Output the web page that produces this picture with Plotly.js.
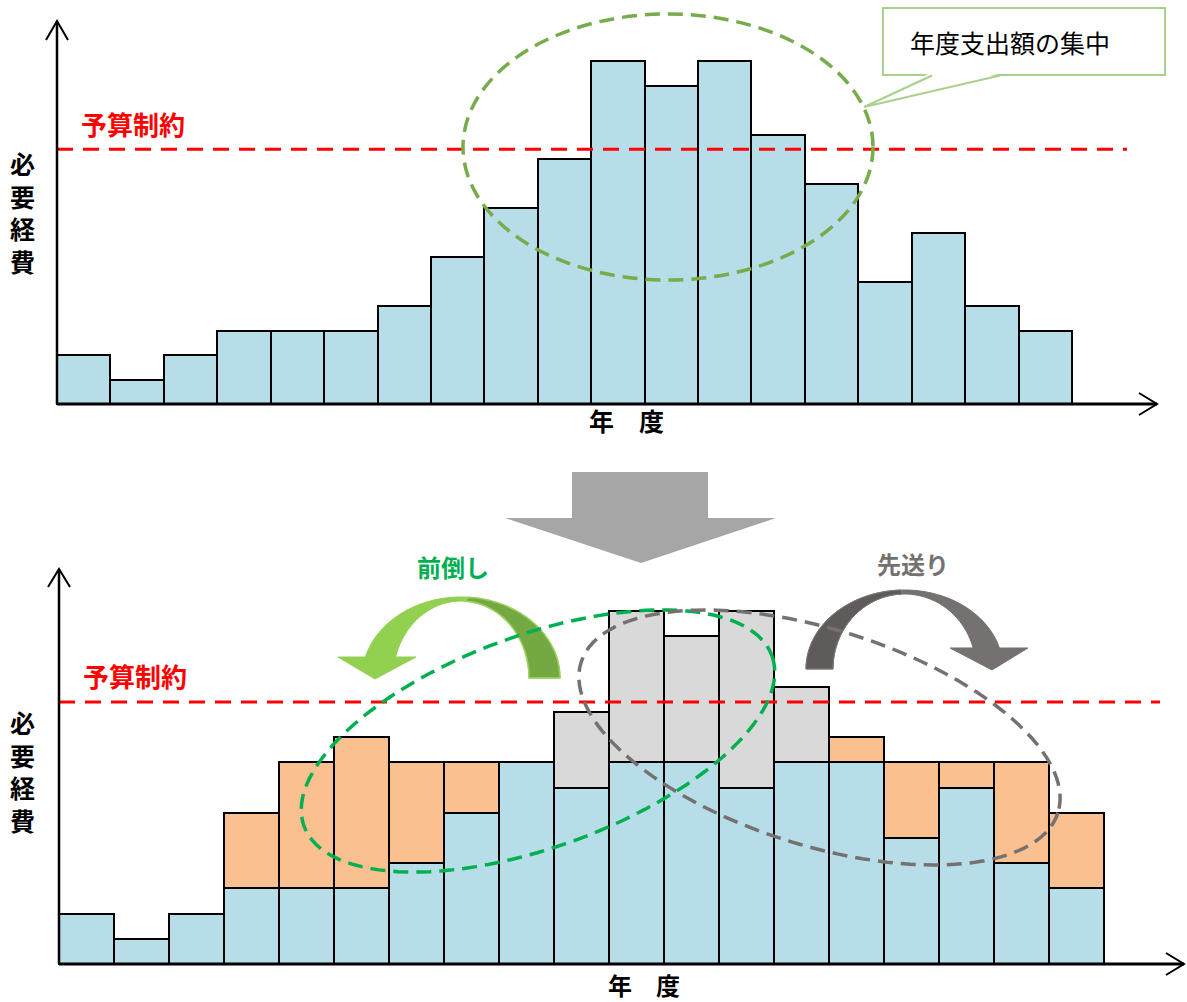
<!DOCTYPE html>
<html>
<head>
<meta charset="utf-8">
<script src="https://cdn.plot.ly/plotly-3.0.1.min.js"></script>
<style>
html,body{margin:0;padding:0;background:#ffffff;}
#chart{width:1187px;height:1002px;}
</style>
</head>
<body>
<div id="chart"></div>
<script>
// ---------- data ----------
const years = [1,2,3,4,5,6,7,8,9,10,11,12,13,14,15,16,17,18,19];
const requiredBefore = [2,1,2,3,3,3,4,6,8,10,14,13,14,11,9,5,7,4,3];
const requiredBase   = [2,1,2,3,3,3,4,6,8,7,8,8,7,8,8,5,7,4,3];
const advancedAmount = [0,0,0,3,5,6,4,2,0,0,0,0,0,0,1,3,1,4,3];
const deferredAmount = [0,0,0,0,0,0,0,0,0,3,6,5,7,3,0,0,0,0,0];
const budgetLimit = 10.4;

const yLabel = '必要経費';
const xLabel = '年　度';
const budgetLabel = '予算制約';
const calloutLabel = '年度支出額の集中';
const advanceLabel = '前倒し';
const deferLabel = '先送り';

// ---------- geometry helpers (decorations only) ----------
const W = 1187, H = 1002;
const FONT = '"Noto Sans CJK JP", "Noto Sans", sans-serif';
const toPaper = (x, y) => [x / W, 1 - y / H];
function pathFrom(points, close) {
  return points.map((p, i) => {
    const q = toPaper(p[0], p[1]);
    return (i ? 'L' : 'M') + q[0].toFixed(5) + ',' + q[1].toFixed(5);
  }).join(' ') + (close ? ' Z' : '');
}
function arc(cx, cy, rx, ry, t0, t1, n) {
  n = n || 48;
  const pts = [];
  for (let i = 0; i <= n; i++) {
    const t = (t0 + (t1 - t0) * i / n) * Math.PI / 180;
    pts.push([cx + rx * Math.cos(t), cy - ry * Math.sin(t)]);
  }
  return pts;
}
function rotEllipse(cx, cy, a, b, thetaDeg, s) {
  const th = thetaDeg * Math.PI / 180;
  const u = [Math.cos(th), s * Math.sin(th)];
  const v = [-u[1], u[0]];
  const pts = [];
  for (let i = 0; i <= 120; i++) {
    const t = 2 * Math.PI * i / 120;
    pts.push([cx + a * Math.cos(t) * u[0] + b * Math.sin(t) * v[0],
              cy + a * Math.cos(t) * u[1] + b * Math.sin(t) * v[1]]);
  }
  return pts;
}

// ---------- axis scales ----------
// top panel: first bar left edge at px 57, bar width 53.42 px, baseline px 404, unit 24.5 px
const tU = 53.42, tOx = 57, tBase = 404, tUy = 24.5;
// bottom panel: first bar left edge at px 59, bar width 55 px, baseline px 964, unit 25.2 px
const bU = 55, bOx = 59, bBase = 964, bUy = 25.2;

const axisCommon = {showgrid:false, zeroline:false, showticklabels:false, showline:false, ticks:'', fixedrange:true};

const traces = [
  {type:'bar', x: years, y: requiredBefore, xaxis:'x', yaxis:'y', width:1,
   marker:{color:'#B7DDE8', line:{color:'#000000', width:2}}, hoverinfo:'skip'},
  {type:'bar', x: years, y: requiredBase, xaxis:'x2', yaxis:'y2', width:1,
   marker:{color:'#B7DDE8', line:{color:'#000000', width:2}}, hoverinfo:'skip'},
  {type:'bar', x: years, y: advancedAmount.map(v => v || null), xaxis:'x2', yaxis:'y2', width:1,
   marker:{color:'#FAC090', line:{color:'#000000', width:2}}, hoverinfo:'skip'},
  {type:'bar', x: years, y: deferredAmount.map(v => v || null), xaxis:'x2', yaxis:'y2', width:1,
   marker:{color:'#D9D9D9', line:{color:'#000000', width:2}}, hoverinfo:'skip'}
];

const shapes = [];
const blackLine = (pts, w) => shapes.push({type:'path', xref:'paper', yref:'paper', path: pathFrom(pts, false), line:{color:'#000000', width:w}});

// budget lines (data coordinates)
shapes.push({type:'line', xref:'x', yref:'y', x0:0.5, x1:0.5 + (1127 - tOx) / tU, y0:budgetLimit, y1:budgetLimit,
  line:{color:'#FF0000', width:3, dash:'16px,10px'}});
shapes.push({type:'line', xref:'x2', yref:'y2', x0:0.5, x1:0.5 + (1160 - bOx) / bU, y0:budgetLimit, y1:budgetLimit,
  line:{color:'#FF0000', width:3, dash:'16px,10px'}});

// axes with arrows
blackLine([[57,404],[57,22]], 2.5);
blackLine([[46,40],[57,21],[68,40]], 2);
blackLine([[57,404],[1157,404]], 3);
blackLine([[1139,393],[1157,404],[1139,415]], 2);
blackLine([[59,964],[59,570]], 2.5);
blackLine([[48,587],[59,569],[70,587]], 2);
blackLine([[59,964],[1184,964]], 3);
blackLine([[1166,953],[1184,964],[1166,975]], 2);

// big down arrow
shapes.push({type:'path', xref:'paper', yref:'paper',
  path: pathFrom([[572,472],[708,472],[708,518],[776,518],[641,563],[505,518],[572,518]], true),
  fillcolor:'#A6A6A6', line:{width:0}});

// green curved arrow (前倒し)
{
  const outer = arc(461, 678, 99, 81, 0, 165);
  const head = [[338,657],[375,679],[416,657]];
  const inner = arc(461, 678, 68, 77, 164.2, 0);
  shapes.push({type:'path', xref:'paper', yref:'paper', path: pathFrom(outer.concat(head, inner), true),
    fillcolor:'#92D050', line:{color:'#92D050', width:1}});
  const dOuter = arc(461, 678, 99, 81, 0, 86);
  const dInner = arc(461, 678, 68, 77, 86, 0);
  shapes.push({type:'path', xref:'paper', yref:'paper', path: pathFrom(dOuter.concat(dInner), true),
    fillcolor:'#74A843', line:{color:'#9BD35E', width:1.5}});
}
// gray curved arrow (先送り)
{
  const outer = arc(904.5, 669, 98.5, 79, 180, 15.4);
  const head = [[1028,648],[992,670],[950,648]];
  const inner = arc(904.5, 669, 71.5, 75, 16.3, 180);
  shapes.push({type:'path', xref:'paper', yref:'paper', path: pathFrom(outer.concat(head, inner), true),
    fillcolor:'#767171', line:{color:'#767171', width:1}});
  const dOuter = arc(904.5, 669, 98.5, 79, 180, 92);
  const dInner = arc(904.5, 669, 71.5, 75, 92, 180);
  shapes.push({type:'path', xref:'paper', yref:'paper', path: pathFrom(dOuter.concat(dInner), true),
    fillcolor:'#5F5B5A', line:{color:'#7E7A79', width:1}});
}

// dashed ellipses
shapes.push({type:'circle', xref:'paper', yref:'paper',
  x0: 463 / W, x1: 873 / W, y0: 1 - 280 / H, y1: 1 - 14 / H,
  line:{color:'#77AC4B', width:3.5, dash:'15px,8px'}});
shapes.push({type:'path', xref:'paper', yref:'paper', path: pathFrom(rotEllipse(538, 741, 249, 106, 20, -1), true),
  line:{color:'#00B050', width:3.5, dash:'15px,8px'}});
shapes.push({type:'path', xref:'paper', yref:'paper', path: pathFrom(rotEllipse(819.5, 737.5, 250, 108, 17.5, 1), true),
  line:{color:'#767171', width:3.5, dash:'15px,8px'}});

// callout box
shapes.push({type:'rect', xref:'paper', yref:'paper', x0: 883 / W, x1: 1165 / W, y0: 1 - 75 / H, y1: 1 - 8 / H,
  fillcolor:'#FFFFFF', line:{color:'#A9D18E', width:2}});
shapes.push({type:'path', xref:'paper', yref:'paper', path: pathFrom([[930,73],[864,107],[1002,73]], true),
  fillcolor:'#FFFFFF', line:{width:0}});
shapes.push({type:'path', xref:'paper', yref:'paper', path: pathFrom([[932,75.5],[864,107],[1000,75.5]], false),
  line:{color:'#A9D18E', width:2}});

// annotations
const ann = (text, x, y, size, color, bold) => {
  const p = toPaper(x, y);
  return {text: text, xref:'paper', yref:'paper', x:p[0], y:p[1], xanchor:'center', yanchor:'middle',
    showarrow:false, borderpad:0, font:{family:FONT, size:size, color:color, weight: bold ? 'bold' : 'normal'}};
};
const vText = yLabel.split('').join('<br>');
const annotations = [
  ann(budgetLabel, 133, 124, 26, '#FF0000', true),
  ann(budgetLabel, 135, 675, 26, '#FF0000', true),
  ann(vText, 22, 212, 25, '#000000', true),
  ann(vText, 22, 771, 25, '#000000', true),
  ann(xLabel, 626, 420, 25, '#000000', true),
  ann(xLabel, 644, 984, 24, '#000000', true),
  ann(calloutLabel, 1010, 42, 25, '#000000', false),
  ann(advanceLabel, 453, 566, 24, '#00B050', true),
  ann(deferLabel, 913, 563, 24, '#767171', true)
];

const layout = {
  width: W, height: H, autosize:false,
  margin:{l:0, r:0, t:0, b:0, pad:0},
  paper_bgcolor:'#FFFFFF', plot_bgcolor:'rgba(0,0,0,0)',
  showlegend:false, barmode:'stack', bargap:0,
  xaxis: Object.assign({}, axisCommon, {domain:[0,1], anchor:'y',
    range:[0.5 - tOx / tU, 0.5 + (W - tOx) / tU]}),
  yaxis: Object.assign({}, axisCommon, {domain:[1 - 450 / H, 1], anchor:'x',
    range:[-(450 - tBase) / tUy, tBase / tUy]}),
  xaxis2: Object.assign({}, axisCommon, {domain:[0,1], anchor:'y2',
    range:[0.5 - bOx / bU, 0.5 + (W - bOx) / bU]}),
  yaxis2: Object.assign({}, axisCommon, {domain:[0, 1 - 540 / H], anchor:'x2',
    range:[-(H - bBase) / bUy, (bBase - 540) / bUy]}),
  shapes: shapes,
  annotations: annotations
};

Plotly.newPlot('chart', traces, layout, {displayModeBar:false, staticPlot:true});
</script>
</body>
</html>
